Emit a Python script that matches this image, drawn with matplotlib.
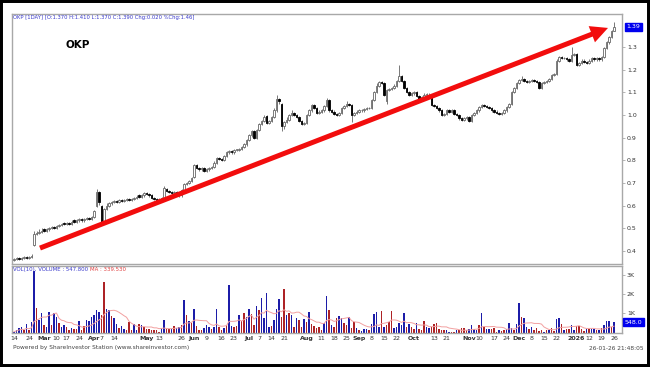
import matplotlib
matplotlib.use('Agg')
import matplotlib.pyplot as plt
from matplotlib.patches import Rectangle
import numpy as np
import pandas as pd

# ---------------- data (daily OHLC, Feb 2025 - Jan 2026) ----------------
opens = [0.36, 0.365, 0.37, 0.365, 0.37, 0.375, 0.37, 0.375, 0.425, 0.475,
         0.48, 0.485, 0.495, 0.49, 0.495, 0.50, 0.505, 0.50, 0.51, 0.515,
         0.525, 0.52, 0.525, 0.52, 0.535, 0.53, 0.535, 0.54, 0.535, 0.54,
         0.545, 0.54, 0.55, 0.60, 0.66, 0.60, 0.53, 0.585, 0.60, 0.61,
         0.615, 0.62, 0.615, 0.625, 0.62, 0.625, 0.63, 0.625, 0.63, 0.635,
         0.645, 0.64, 0.645, 0.655, 0.65, 0.645, 0.635, 0.63, 0.625, 0.63,
         0.635, 0.675, 0.665, 0.66, 0.655, 0.66, 0.65, 0.645, 0.67, 0.695,
         0.70, 0.71, 0.725, 0.78, 0.765, 0.76, 0.765, 0.755, 0.76, 0.765,
         0.77, 0.79, 0.81, 0.805, 0.80, 0.82, 0.835, 0.84, 0.835, 0.845,
         0.845, 0.85, 0.86, 0.87, 0.89, 0.91, 0.93, 0.90, 0.935, 0.96,
         0.975, 0.995, 0.965, 0.975, 0.99, 1.02, 1.07, 1.05, 0.95, 0.97,
         0.98, 1.00, 1.01, 1.00, 0.99, 0.975, 0.96, 0.965, 1.00, 1.02,
         1.045, 1.03, 1.01, 1.015, 1.02, 1.04, 1.065, 1.02, 1.015, 1.005,
         1.00, 1.01, 1.03, 1.04, 1.05, 1.045, 1.00, 1.01, 1.015, 1.02,
         1.02, 1.025, 1.03, 1.03, 1.065, 1.10, 1.13, 1.145, 1.14, 1.06,
         1.11, 1.115, 1.12, 1.13, 1.15, 1.17, 1.15, 1.12, 1.10, 1.09,
         1.095, 1.10, 1.085, 1.07, 1.08, 1.09, 1.09, 1.085, 1.045, 1.04,
         1.03, 1.02, 1.00, 1.005, 1.02, 1.015, 1.02, 1.005, 1.00, 0.985,
         0.98, 0.985, 0.99, 0.975, 1.00, 1.01, 1.02, 1.035, 1.045, 1.04,
         1.035, 1.03, 1.02, 1.015, 1.01, 1.005, 1.01, 1.02, 1.035, 1.05,
         1.10, 1.12, 1.14, 1.155, 1.16, 1.15, 1.145, 1.15, 1.155, 1.15,
         1.145, 1.12, 1.14, 1.145, 1.15, 1.16, 1.175, 1.18, 1.24, 1.255,
         1.25, 1.25, 1.245, 1.24, 1.265, 1.27, 1.22, 1.23, 1.24, 1.235,
         1.23, 1.24, 1.25, 1.245, 1.25, 1.245, 1.255, 1.295, 1.32, 1.345,
         1.37]
closes = [0.365, 0.37, 0.365, 0.37, 0.375, 0.37, 0.375, 0.38, 0.475, 0.48,
          0.485, 0.49, 0.49, 0.495, 0.50, 0.505, 0.50, 0.51, 0.515, 0.52,
          0.52, 0.525, 0.52, 0.53, 0.53, 0.535, 0.54, 0.535, 0.54, 0.545,
          0.54, 0.55, 0.575, 0.66, 0.615, 0.53, 0.585, 0.60, 0.61, 0.615,
          0.62, 0.615, 0.625, 0.62, 0.625, 0.63, 0.625, 0.63, 0.635, 0.64,
          0.64, 0.645, 0.655, 0.65, 0.645, 0.635, 0.63, 0.625, 0.63, 0.635,
          0.68, 0.665, 0.66, 0.655, 0.66, 0.65, 0.645, 0.67, 0.695, 0.70,
          0.71, 0.72, 0.78, 0.765, 0.76, 0.765, 0.755, 0.76, 0.765, 0.77,
          0.79, 0.81, 0.805, 0.80, 0.82, 0.835, 0.84, 0.835, 0.845, 0.845,
          0.85, 0.86, 0.87, 0.89, 0.91, 0.93, 0.90, 0.935, 0.96, 0.975,
          0.99, 0.965, 0.975, 0.99, 1.02, 1.07, 1.06, 0.95, 0.97, 0.98,
          1.00, 1.01, 1.00, 0.99, 0.975, 0.96, 0.965, 1.00, 1.02, 1.045,
          1.03, 1.01, 1.015, 1.02, 1.04, 1.065, 1.02, 1.015, 1.005, 1.00,
          1.01, 1.03, 1.04, 1.05, 1.045, 1.00, 1.01, 1.015, 1.02, 1.02,
          1.025, 1.03, 1.03, 1.065, 1.10, 1.13, 1.145, 1.14, 1.09, 1.11,
          1.115, 1.12, 1.13, 1.15, 1.17, 1.15, 1.12, 1.10, 1.09, 1.095,
          1.10, 1.085, 1.07, 1.08, 1.09, 1.09, 1.085, 1.045, 1.04, 1.03,
          1.02, 1.00, 1.005, 1.02, 1.015, 1.02, 1.005, 1.00, 0.985, 0.98,
          0.985, 0.99, 0.975, 1.00, 1.01, 1.02, 1.035, 1.045, 1.04, 1.035,
          1.03, 1.02, 1.015, 1.01, 1.005, 1.01, 1.02, 1.035, 1.05, 1.10,
          1.12, 1.14, 1.155, 1.16, 1.15, 1.145, 1.15, 1.155, 1.15, 1.145,
          1.12, 1.14, 1.145, 1.15, 1.16, 1.175, 1.18, 1.24, 1.255, 1.25,
          1.25, 1.245, 1.24, 1.265, 1.27, 1.22, 1.23, 1.24, 1.235, 1.23,
          1.24, 1.25, 1.245, 1.25, 1.245, 1.255, 1.295, 1.32, 1.345, 1.37,
          1.39]
highs = [0.37, 0.375, 0.375, 0.375, 0.38, 0.38, 0.38, 0.385, 0.49, 0.49,
         0.495, 0.50, 0.50, 0.50, 0.505, 0.51, 0.51, 0.515, 0.52, 0.525,
         0.53, 0.53, 0.53, 0.535, 0.54, 0.54, 0.545, 0.545, 0.545, 0.55,
         0.55, 0.555, 0.58, 0.675, 0.665, 0.605, 0.59, 0.61, 0.615, 0.62,
         0.625, 0.625, 0.63, 0.63, 0.63, 0.635, 0.635, 0.635, 0.64, 0.645,
         0.65, 0.65, 0.66, 0.66, 0.655, 0.65, 0.64, 0.635, 0.635, 0.64,
         0.685, 0.68, 0.67, 0.665, 0.665, 0.665, 0.655, 0.675, 0.70, 0.705,
         0.715, 0.725, 0.785, 0.785, 0.77, 0.77, 0.77, 0.765, 0.77, 0.775,
         0.795, 0.815, 0.815, 0.81, 0.825, 0.84, 0.845, 0.845, 0.85, 0.85,
         0.855, 0.865, 0.875, 0.895, 0.915, 0.935, 0.935, 0.94, 0.965, 0.98,
         1.00, 1.00, 0.98, 0.995, 1.03, 1.09, 1.075, 1.055, 0.975, 0.99,
         1.005, 1.02, 1.015, 1.005, 0.995, 0.98, 0.97, 1.005, 1.025, 1.05,
         1.05, 1.035, 1.02, 1.025, 1.045, 1.075, 1.07, 1.025, 1.02, 1.01,
         1.015, 1.035, 1.045, 1.06, 1.055, 1.05, 1.015, 1.02, 1.025, 1.025,
         1.03, 1.035, 1.035, 1.07, 1.105, 1.14, 1.15, 1.15, 1.145, 1.115,
         1.12, 1.125, 1.135, 1.155, 1.22, 1.175, 1.155, 1.125, 1.105, 1.10,
         1.105, 1.105, 1.09, 1.085, 1.095, 1.095, 1.095, 1.09, 1.05, 1.045,
         1.035, 1.025, 1.01, 1.025, 1.025, 1.025, 1.025, 1.01, 1.005, 0.99,
         0.99, 0.995, 0.995, 1.005, 1.015, 1.025, 1.04, 1.05, 1.05, 1.045,
         1.04, 1.035, 1.025, 1.02, 1.015, 1.015, 1.025, 1.04, 1.055, 1.105,
         1.125, 1.145, 1.16, 1.17, 1.165, 1.155, 1.155, 1.16, 1.16, 1.155,
         1.15, 1.145, 1.15, 1.155, 1.165, 1.18, 1.185, 1.245, 1.26, 1.26,
         1.255, 1.255, 1.25, 1.30, 1.275, 1.275, 1.235, 1.245, 1.245, 1.24,
         1.245, 1.255, 1.255, 1.255, 1.255, 1.26, 1.30, 1.325, 1.35, 1.375,
         1.41]
lows = [0.355, 0.36, 0.36, 0.36, 0.365, 0.365, 0.365, 0.37, 0.42, 0.47,
        0.475, 0.48, 0.485, 0.485, 0.49, 0.495, 0.495, 0.495, 0.505, 0.51,
        0.515, 0.515, 0.515, 0.515, 0.525, 0.525, 0.53, 0.53, 0.53, 0.535,
        0.535, 0.535, 0.545, 0.595, 0.605, 0.52, 0.525, 0.58, 0.595, 0.605,
        0.61, 0.61, 0.61, 0.615, 0.615, 0.62, 0.62, 0.62, 0.625, 0.63,
        0.635, 0.635, 0.64, 0.645, 0.64, 0.63, 0.625, 0.62, 0.62, 0.625,
        0.63, 0.66, 0.655, 0.65, 0.65, 0.645, 0.64, 0.64, 0.665, 0.69,
        0.695, 0.705, 0.72, 0.76, 0.755, 0.755, 0.75, 0.75, 0.755, 0.76,
        0.765, 0.785, 0.80, 0.795, 0.795, 0.815, 0.83, 0.83, 0.83, 0.84,
        0.84, 0.845, 0.855, 0.865, 0.885, 0.905, 0.895, 0.895, 0.93, 0.955,
        0.97, 0.96, 0.96, 0.97, 0.985, 1.015, 1.05, 0.93, 0.94, 0.965,
        0.975, 0.995, 0.995, 0.985, 0.97, 0.955, 0.955, 0.96, 0.995, 1.015,
        1.025, 1.005, 1.005, 1.01, 1.015, 1.035, 1.015, 1.01, 1.00, 0.995,
        0.995, 1.005, 1.025, 1.035, 1.04, 0.97, 0.995, 1.005, 1.01, 1.015,
        1.015, 1.02, 1.025, 1.025, 1.06, 1.095, 1.125, 1.135, 1.085, 1.05,
        1.105, 1.11, 1.115, 1.125, 1.145, 1.145, 1.115, 1.095, 1.085, 1.085,
        1.09, 1.08, 1.065, 1.065, 1.075, 1.085, 1.08, 1.04, 1.035, 1.025,
        1.015, 0.995, 0.995, 1.00, 1.01, 1.01, 1.00, 0.995, 0.98, 0.975,
        0.975, 0.98, 0.97, 0.97, 0.995, 1.005, 1.015, 1.03, 1.035, 1.03,
        1.025, 1.015, 1.01, 1.005, 1.00, 1.00, 1.005, 1.015, 1.03, 1.045,
        1.095, 1.115, 1.135, 1.15, 1.145, 1.14, 1.14, 1.145, 1.145, 1.14,
        1.115, 1.115, 1.135, 1.14, 1.145, 1.155, 1.17, 1.175, 1.235, 1.245,
        1.245, 1.24, 1.235, 1.235, 1.26, 1.215, 1.215, 1.225, 1.23, 1.225,
        1.225, 1.235, 1.24, 1.24, 1.24, 1.24, 1.25, 1.29, 1.315, 1.34,
        1.37]
# daily volume in thousands; b = blue (up) bar, r = red (down) bar
volume_k = [0.05, 0.14, 0.23, 0.28, 0.14, 0.46, 0.14, 0.58, 3.2, 1.28,
            0.67, 1.02, 0.40, 0.28, 1.1, 0.40, 1.02, 0.84, 0.49, 0.28,
            0.40, 0.32, 0.14, 0.23, 0.18, 0.18, 0.63, 0.14, 0.35, 0.67,
            0.63, 0.84, 0.93, 1.19, 1.1, 0.93, 2.65, 1.23, 1.19, 0.88,
            0.75, 0.46, 0.23, 0.35, 0.18, 0.14, 0.58, 0.14, 0.46, 0.14,
            0.46, 0.40, 0.28, 0.18, 0.18, 0.14, 0.14, 0.14, 0.05, 0.23,
            0.67, 0.18, 0.18, 0.18, 0.35, 0.23, 0.32, 0.40, 1.68, 0.93,
            0.61, 0.53, 1.23, 0.35, 0.14,
            0.14, 0.23, 0.40, 0.28, 0.18, 0.32, 1.25, 0.28, 0.14, 0.23,
            0.40, 2.46, 0.35, 0.32, 0.35, 0.91, 0.63, 1.02, 0.84, 1.23,
            0.98, 0.40, 1.4, 1.16, 1.8, 0.75, 2.07, 0.28, 0.35, 0.67,
            1.23, 1.77, 0.81, 2.25, 0.93, 1.02, 0.93, 0.32, 0.75, 0.67,
            0.32, 0.7, 0.58, 1.1, 0.46, 0.35, 0.23, 0.32, 0.14, 0.53,
            1.93, 1.19, 0.40, 0.32, 0.79, 0.88, 0.75, 0.49, 0.40, 0.84,
            0.23, 0.58, 0.23, 0.14, 0.09, 0.18, 0.18, 0.14, 0.46, 0.98,
            1.09, 0.32, 1.14, 0.32, 0.40, 0.58, 1.14, 0.23, 0.32, 0.49,
            0.40, 1.02, 0.28, 0.46, 0.28, 0.18, 0.49, 0.18, 0.14,
            0.63, 0.28, 0.23, 0.28, 0.46, 0.53, 0.18, 0.14, 0.14, 0.14,
            0.05, 0.05, 0.04, 0.14, 0.14, 0.23, 0.23, 0.14, 0.18, 0.40,
            0.18, 0.14, 0.40, 1.02, 0.28, 0.18, 0.21, 0.18, 0.25, 0.05,
            0.14, 0.10, 0.14, 0.18, 0.49, 0.23, 0.14, 0.46, 1.54, 0.84,
            0.75, 0.28, 0.18, 0.28, 0.14, 0.23, 0.10, 0.14, 0.05, 0.14,
            0.14, 0.23, 0.07, 0.70, 0.75, 0.46, 0.14, 0.18, 0.18, 0.40,
            0.14, 0.35, 0.35, 0.18, 0.10, 0.18, 0.18, 0.18, 0.18, 0.14,
            0.14, 0.23, 0.40, 0.63, 0.63, 0.32, 0.548]
volume_dir = ("bbbbrbrbbr" "bbrbbrbbrb" "brrbrrbrrb" "bbbbbrrbbr" "bbrbbrrrbb"
              "rbrrrrrrrb" "brrbrbbrbr" "brbrr"
              "rbbbrbbrrb" "rbbrrbrrbb" "rrbrbbbbrb" "bbrrbrbrbr" "rbrbrrrrrb"
              "brbrrbbrrb" "rrbrbbbrbb" "bbrbrrrbbb" "bbrbrrbrr"
              "rbbrrrrrrb" "brrbrrrrbb" "bbrbrbbrrr" "brrbbbrbbr" "bbrbrrrrbr"
              "brrbbrbrrb" "brrrrbrbbr" "brbbbrb")

tick_pos = [0, 6, 12, 17, 21, 26, 32, 35, 40, 53, 58, 67, 72, 77, 83, 88,
            94, 98, 103, 108, 117, 123, 128, 133, 138, 143, 148, 153, 160,
            168, 173, 182, 186, 192, 197, 202, 207, 212, 217, 225, 230, 235, 240]
tick_labels = ["14", "24", "Mar", "10", "17", "24", "Apr", "7", "14", "May", "13",
               "26", "Jun", "9", "16", "23", "Jul", "7", "14", "21", "Aug", "11",
               "18", "25", "Sep", "8", "15", "22", "Oct", "13", "21", "Nov", "10",
               "17", "24", "Dec", "8", "15", "22", "2026", "12", "19", "26"]
price_ticks = [0.4, 0.5, 0.6, 0.7, 0.8, 0.9, 1.0, 1.1, 1.2, 1.3]
vol_ticks = [1, 2, 3]
vol_tick_labels = ["1K", "2K", "3K"]

ARROW_START = (10.4, 0.413)
ARROW_END = (237.6, 1.384)

# ---------------- figure ----------------
W, H = 650, 367
fig = plt.figure(figsize=(W / 100, H / 100), dpi=100)
fig.patch.set_facecolor('white')


def fx(px):
    return px / W


def fy(py):
    return 1 - py / H


ax = fig.add_axes([fx(12), fy(264), (622 - 12) / W, (264 - 14) / H])
axv = fig.add_axes([fx(12), fy(333), (622 - 12) / W, (333 - 266) / H], sharex=ax)

x = np.arange(len(closes))
o = np.array(opens)
c = np.array(closes)
h = np.array(highs)
l = np.array(lows)
up = c >= o
body_lo = np.minimum(o, c)
body_h = np.maximum(np.abs(c - o), 0.003)

ax.vlines(x, l, h, color='#555555', lw=0.55, zorder=2)
ax.bar(x[up], body_h[up], bottom=body_lo[up], width=0.72, facecolor='white',
       edgecolor='#666666', linewidth=0.6, zorder=3)
ax.bar(x[~up], body_h[~up], bottom=body_lo[~up], width=0.72, facecolor='black',
       edgecolor='black', linewidth=0.6, zorder=3)

ax.set_xlim(-0.8, 243.2)
ax.set_ylim(0.3427, 1.4455)

# trend arrow
ax.annotate('', xy=ARROW_END, xytext=ARROW_START, xycoords='data',
            arrowprops=dict(width=3.6, headwidth=12.5, headlength=12.5,
                            color='#f20d0d', shrink=0, linewidth=0), zorder=5)

# volume
vol = np.array(volume_k)
vcols = np.where(np.array(list(volume_dir)) == 'b', '#1c1ca8', '#ad2326')
axv.bar(x, vol, width=0.72, color=vcols, linewidth=0, zorder=2)
ma = pd.Series(vol).rolling(10, min_periods=1).mean()
axv.plot(x, ma, color='#f2a0a0', lw=0.7, zorder=3)
axv.set_ylim(-0.016, 3.474)

for a in (ax, axv):
    for s in a.spines.values():
        s.set_color('#a8a8a8')
        s.set_linewidth(1.0)
    a.yaxis.tick_right()
    a.tick_params(axis='y', length=2, width=0.5, colors='#999999',
                  labelcolor='#333333', labelsize=4.5, pad=1.5)

ax.set_yticks(price_ticks)
ax.set_yticklabels([f"{v:.1f}" for v in price_ticks])
ax.tick_params(axis='x', bottom=False, labelbottom=False)

axv.set_yticks(vol_ticks)
axv.set_yticklabels(vol_tick_labels)
axv.set_xticks(tick_pos)
axv.set_xticklabels(tick_labels)
axv.tick_params(axis='x', length=0, labelsize=4.5, pad=2.5, labelcolor='#333333')
for t in axv.get_xticklabels():
    if not t.get_text().isdigit() or t.get_text() == "2026":
        t.set_fontweight('bold')

# value boxes on the right axis
ax.annotate(f"{closes[-1]:.2f}", xy=(1.0, closes[-1]), xycoords=('axes fraction', 'data'),
            xytext=(3, 0), textcoords='offset points', fontsize=4.5, color='white',
            va='center', ha='left',
            bbox=dict(boxstyle='square,pad=0.25', fc='#0000ee', ec='#0000ee'))
axv.annotate(f"{volume_k[-1] * 1000:.1f}", xy=(1.0, volume_k[-1]),
             xycoords=('axes fraction', 'data'),
             xytext=(2, 0), textcoords='offset points', fontsize=4.5, color='white',
             va='center', ha='left',
             bbox=dict(boxstyle='square,pad=0.25', fc='#0000ee', ec='#0000ee'))

# texts
fig.text(fx(13), fy(18), "OKP [1DAY] [O:1.370 H:1.410 L:1.370 C:1.390 Chg:0.020 %Chg:1.46]",
         fontsize=3.8, color='#3a3acc', va='center', ha='left')
fig.text(fx(65), fy(45), "OKP", fontsize=7.5, fontweight='bold', color='black',
         va='center', ha='left')
fig.text(fx(13), fy(269.5), "VOL(10), VOLUME : 547.800", fontsize=3.9, color='#3a3acc',
         va='center', ha='left')
fig.text(fx(90), fy(269.5), "MA : 339.530", fontsize=3.9, color='#e04040',
         va='center', ha='left')
fig.text(fx(13), fy(348), "Powered by ShareInvestor Station (www.shareinvestor.com)",
         fontsize=4.2, color='#444444', va='center', ha='left')
fig.text(fx(644), fy(348), "26-01-26 21:48:05", fontsize=4.2, color='#444444',
         va='center', ha='right')

# outer black frame
fig.patches.append(Rectangle((0, 0), 1, 1, transform=fig.transFigure, fill=False,
                             edgecolor='black', linewidth=4.3, zorder=10))

fig.savefig('out.png', dpi=100)
